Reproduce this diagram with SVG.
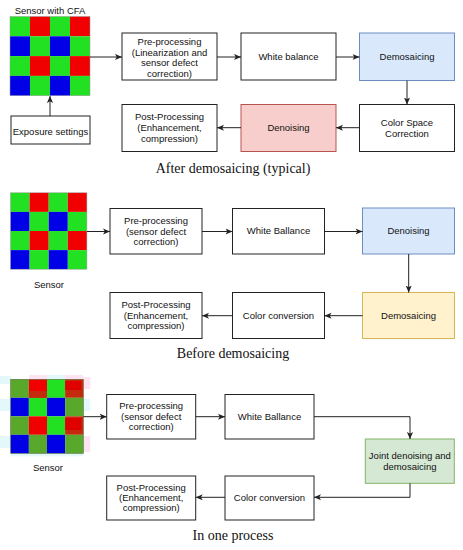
<svg xmlns="http://www.w3.org/2000/svg" width="463" height="550" viewBox="0 0 463 550">
<defs>
<style>
.bx{fill:#fff;stroke:#222;stroke-width:1}
.blue{fill:#dae8fc;stroke:#6c8ebf;stroke-width:1}
.red{fill:#f8cecc;stroke:#b85450;stroke-width:1}
.yel{fill:#fff2cc;stroke:#d6b656;stroke-width:1}
.grn{fill:#d5e8d4;stroke:#82b366;stroke-width:1}
text{font-family:"Liberation Sans",Arial,sans-serif;font-size:9.5px;fill:#111;text-anchor:middle}
text.cap{font-family:"Liberation Serif","Times New Roman",serif;font-size:14px;fill:#111}
.c{fill:none;stroke:#222;stroke-width:1}
.G{fill:#22e022}.R{fill:#f00000}.B{fill:#0000e6}
.g2{fill:#58a82c}.r2{fill:#c42a0c}
.pk{fill:#fde4f3}.cy{fill:#e2f8fa}
</style>
<marker id="a" viewBox="0 0 8 8" refX="8" refY="4" markerWidth="7" markerHeight="7" orient="auto" markerUnits="userSpaceOnUse">
<path d="M0,0.5 L8,4 L0,7.5 L2,4 z" fill="#222"/>
</marker>
</defs>
<rect width="463" height="550" fill="#fff"/>

<!-- Section 1 -->
<g id="sensor1">
<text x="50" y="13.5">Sensor with CFA</text>
<rect class="G" x="10" y="16.5" width="20" height="19.8"/><rect class="R" x="30" y="16.5" width="20" height="19.8"/><rect class="G" x="50" y="16.5" width="20" height="19.8"/><rect class="R" x="70" y="16.5" width="20" height="19.8"/>
<rect class="B" x="10" y="36.3" width="20" height="19.8"/><rect class="G" x="30" y="36.3" width="20" height="19.8"/><rect class="B" x="50" y="36.3" width="20" height="19.8"/><rect class="G" x="70" y="36.3" width="20" height="19.8"/>
<rect class="G" x="10" y="56.1" width="20" height="19.8"/><rect class="R" x="30" y="56.1" width="20" height="19.8"/><rect class="G" x="50" y="56.1" width="20" height="19.8"/><rect class="R" x="70" y="56.1" width="20" height="19.8"/>
<rect class="B" x="10" y="75.9" width="20" height="19.8"/><rect class="G" x="30" y="75.9" width="20" height="19.8"/><rect class="B" x="50" y="75.9" width="20" height="19.8"/><rect class="G" x="70" y="75.9" width="20" height="19.8"/>
<rect x="10" y="16.5" width="80" height="79.2" fill="none" stroke="#9a9a9a" stroke-width="0.5"/>
</g>
<g id="exposure"><rect class="bx" x="11" y="116" width="79" height="28"/><text x="50.5" y="134.5">Exposure settings</text></g>
<g id="pre1"><rect class="bx" x="122" y="33" width="95" height="47"/>
<text x="169.5" y="45.3">Pre-processing</text><text x="169.5" y="55.7">(Linearization and</text><text x="169.5" y="66.1">sensor defect</text><text x="169.5" y="76.5">correction)</text></g>
<g id="wb1"><rect class="bx" x="241" y="33" width="95" height="47"/><text x="288.5" y="60">White balance</text></g>
<g id="dem1"><rect class="blue" x="359.5" y="33" width="95" height="47.5"/><text x="407" y="60">Demosaicing</text></g>
<g id="csc1"><rect class="bx" x="359.5" y="104.5" width="95" height="47"/><text x="407" y="126.4">Color Space</text><text x="407" y="137.4">Correction</text></g>
<g id="den1"><rect class="red" x="241" y="104.5" width="95" height="47"/><text x="288.5" y="131.4">Denoising</text></g>
<g id="post1"><rect class="bx" x="122" y="104.5" width="95" height="47"/>
<text x="169.5" y="120.4">Post-Processing</text><text x="169.5" y="131.4">(Enhancement,</text><text x="169.5" y="142.4">compression)</text></g>
<text class="cap" x="233" y="173">After demosaicing (typical)</text>

<!-- Section 2 -->
<g id="sensor2">
<rect class="G" x="10.5" y="192.8" width="19.1" height="19.1"/><rect class="R" x="29.6" y="192.8" width="19.1" height="19.1"/><rect class="G" x="48.7" y="192.8" width="19.1" height="19.1"/><rect class="R" x="67.8" y="192.8" width="19.1" height="19.1"/>
<rect class="B" x="10.5" y="211.9" width="19.1" height="19.1"/><rect class="G" x="29.6" y="211.9" width="19.1" height="19.1"/><rect class="B" x="48.7" y="211.9" width="19.1" height="19.1"/><rect class="G" x="67.8" y="211.9" width="19.1" height="19.1"/>
<rect class="G" x="10.5" y="231" width="19.1" height="19.1"/><rect class="R" x="29.6" y="231" width="19.1" height="19.1"/><rect class="G" x="48.7" y="231" width="19.1" height="19.1"/><rect class="R" x="67.8" y="231" width="19.1" height="19.1"/>
<rect class="B" x="10.5" y="250.1" width="19.1" height="19.1"/><rect class="G" x="29.6" y="250.1" width="19.1" height="19.1"/><rect class="B" x="48.7" y="250.1" width="19.1" height="19.1"/><rect class="G" x="67.8" y="250.1" width="19.1" height="19.1"/>
<rect x="10.5" y="192.8" width="76.4" height="76.4" fill="none" stroke="#9a9a9a" stroke-width="0.5"/>
<text x="49" y="288.4">Sensor</text>
</g>
<g id="pre2"><rect class="bx" x="110" y="208.5" width="92" height="45.5"/>
<text x="156" y="224.4">Pre-processing</text><text x="156" y="235">(sensor defect</text><text x="156" y="245.4">correction)</text></g>
<g id="wb2"><rect class="bx" x="232.5" y="208.5" width="92" height="45.5"/><text x="278.5" y="234.4">White Ballance</text></g>
<g id="den2"><rect class="blue" x="362.5" y="208" width="92" height="46"/><text x="408.5" y="234.4">Denoising</text></g>
<g id="dem2"><rect class="yel" x="362.5" y="292.5" width="92" height="46"/><text x="408.5" y="319">Demosaicing</text></g>
<g id="cc2"><rect class="bx" x="232.5" y="292.5" width="92" height="46"/><text x="278.5" y="319">Color conversion</text></g>
<g id="post2"><rect class="bx" x="110" y="292.5" width="92" height="46"/>
<text x="156" y="308.4">Post-Processing</text><text x="156" y="319">(Enhancement,</text><text x="156" y="329.4">compression)</text></g>
<text class="cap" x="233" y="358">Before demosaicing</text>

<!-- Section 3 -->
<g id="sensor3">
<rect class="cy" x="0" y="376" width="10.7" height="8"/>
<rect class="cy" x="0" y="399" width="10.7" height="12"/>
<rect class="cy" x="0" y="436" width="10.7" height="12"/>
<rect class="pk" x="29" y="375" width="18" height="4.3"/>
<rect class="pk" x="65" y="375" width="18" height="4.3"/>
<rect class="cy" x="47" y="375" width="18" height="4.3"/>
<rect class="pk" x="83.3" y="377" width="7" height="12"/>
<rect class="cy" x="83.3" y="399" width="7" height="12"/>
<rect class="pk" x="83.3" y="436" width="7" height="16"/>
<rect class="cy" x="10.7" y="453.3" width="72.6" height="3"/>
<rect class="g2" x="10.7" y="379.3" width="18.15" height="18.5"/><rect class="R" x="28.85" y="379.3" width="18.15" height="18.5"/><rect class="G" x="47" y="379.3" width="18.15" height="18.5"/><rect class="r2" x="65.15" y="379.3" width="18.15" height="18.5"/>
<rect class="B" x="10.7" y="397.8" width="18.15" height="18.5"/><rect class="G" x="28.85" y="397.8" width="18.15" height="18.5"/><rect class="B" x="47" y="397.8" width="18.15" height="18.5"/><rect class="g2" x="65.15" y="397.8" width="18.15" height="18.5"/>
<rect class="g2" x="10.7" y="416.3" width="18.15" height="18.5"/><rect class="R" x="28.85" y="416.3" width="18.15" height="18.5"/><rect class="G" x="47" y="416.3" width="18.15" height="18.5"/><rect class="r2" x="65.15" y="416.3" width="18.15" height="18.5"/>
<rect class="B" x="10.7" y="434.8" width="18.15" height="18.5"/><rect class="g2" x="28.85" y="434.8" width="18.15" height="18.5"/><rect class="B" x="47" y="434.8" width="18.15" height="18.5"/><rect class="g2" x="65.15" y="434.8" width="18.15" height="18.5"/>
<rect class="r2" x="28.85" y="391" width="18.15" height="6.8"/>
<rect fill="#e00000" x="65.15" y="381" width="16" height="9"/>
<rect fill="#e00000" x="65.15" y="418" width="16" height="12"/>
<rect x="10.7" y="379.3" width="72.6" height="74" fill="none" stroke="#5a6a3a" stroke-width="0.6"/>
<text x="48" y="471.4">Sensor</text>
</g>
<g id="pre3"><rect class="bx" x="106.7" y="394.5" width="89" height="44.5"/>
<text x="151.2" y="409.4">Pre-processing</text><text x="151.2" y="420">(sensor defect</text><text x="151.2" y="430.4">correction)</text></g>
<g id="wb3"><rect class="bx" x="225" y="394.5" width="89" height="44.5"/><text x="269.5" y="420">White Ballance</text></g>
<g id="joint3"><rect class="grn" x="365.3" y="439" width="89" height="44.3"/>
<text x="409.8" y="459.1">Joint denoising and</text><text x="409.8" y="470.1">demosaicing</text></g>
<g id="cc3"><rect class="bx" x="225" y="476" width="89" height="44"/><text x="269.5" y="501.2">Color conversion</text></g>
<g id="post3"><rect class="bx" x="106.7" y="476" width="89" height="44"/>
<text x="151.2" y="490.7">Post-Processing</text><text x="151.2" y="501.1">(Enhancement,</text><text x="151.2" y="511.4">compression)</text></g>
<text class="cap" x="233" y="540">In one process</text>

<g id="connectors">
<path class="c" d="M50,116 L50,96" marker-end="url(#a)"/>
<path class="c" d="M90,57 L122,57" marker-end="url(#a)"/>
<path class="c" d="M217,57 L241,57" marker-end="url(#a)"/>
<path class="c" d="M336,57 L359.5,57" marker-end="url(#a)"/>
<path class="c" d="M407,80.5 L407,104.5" marker-end="url(#a)"/>
<path class="c" d="M359.5,127.7 L336,127.7" marker-end="url(#a)"/>
<path class="c" d="M241,127.7 L217,127.7" marker-end="url(#a)"/>

<path class="c" d="M87,231.5 L110,231.5" marker-end="url(#a)"/>
<path class="c" d="M202,231.5 L232.5,231.5" marker-end="url(#a)"/>
<path class="c" d="M324.5,231.5 L362.5,231.5" marker-end="url(#a)"/>
<path class="c" d="M408.7,254 L408.7,292.5" marker-end="url(#a)"/>
<path class="c" d="M362.5,315.7 L324.5,315.7" marker-end="url(#a)"/>
<path class="c" d="M232.5,315.7 L202,315.7" marker-end="url(#a)"/>

<path class="c" d="M83.3,416.7 L106.7,416.7" marker-end="url(#a)"/>
<path class="c" d="M195.7,416.7 L225,416.7" marker-end="url(#a)"/>
<path class="c" d="M314,416.7 L410,416.7 L410,439" marker-end="url(#a)"/>
<path class="c" d="M410,483.3 L410,497.3 L314,497.3" marker-end="url(#a)"/>
<path class="c" d="M225,497.3 L195.7,497.3" marker-end="url(#a)"/>
</g>
</svg>
